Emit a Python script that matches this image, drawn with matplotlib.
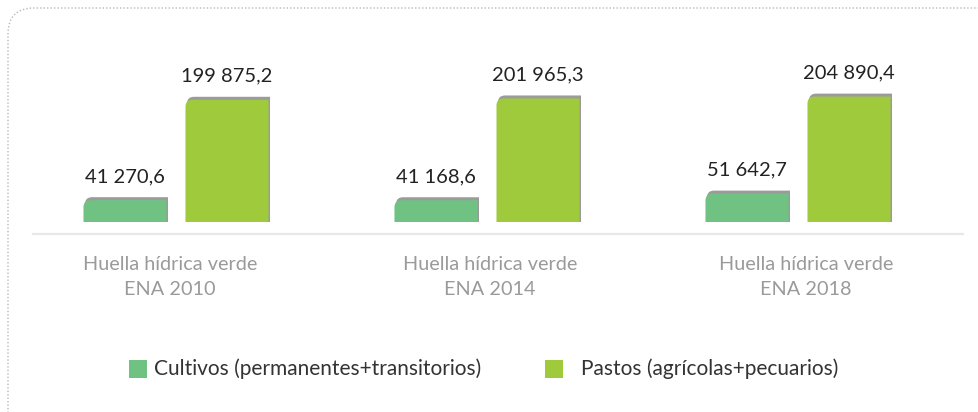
import numpy as np
import matplotlib.pyplot as plt
from matplotlib.path import Path
from matplotlib.patches import PathPatch, FancyBboxPatch, Rectangle
from matplotlib.lines import Line2D

plt.rcParams.update({
    "font.family": ["Lato", "DejaVu Sans"],
})

# huella hídrica verde (millones de m3) por censo
periodos = ["Huella hídrica verde\nENA 2010", "Huella hídrica verde\nENA 2014", "Huella hídrica verde\nENA 2018"]
cultivos = [41270.6, 41168.6, 51642.7]
pastos = [199875.2, 201965.3, 204890.4]
series_names = ["Cultivos (permanentes+transitorios)", "Pastos (agrícolas+pecuarios)"]

color_cultivos = "#70c283"
color_pastos = "#9fca3c"
color_shadow = "#9b9b9b"

W, H, DPI = 979, 412, 100
fig = plt.figure(figsize=(W / DPI, H / DPI), dpi=DPI)

# axes: baseline of the bars at 222 px from the top
ax = fig.add_axes([0, 190 / H, 1, 222 / H])
ax.set_xlim(-176 / 311, (W - 176) / 311)
ax.set_ylim(6800, 6800 + 222 / 0.000633)
ax.axis("off")

x = np.arange(len(periodos))
width = 0.267
offset = 0.164


def fmt(v):
    ent, dec = f"{v:,.1f}".split(".")
    return ent.replace(",", " ") + "," + dec


def rounded_bar(x0, x1, y0, y1, r, color):
    # rectangle with only the top-left corner rounded (pixel coords)
    verts = [(x0, y0), (x1, y0), (x1, y1), (x0 + r, y1),
             (x0, y1), (x0, y1 - r), (x0, y0)]
    codes = [Path.MOVETO, Path.LINETO, Path.LINETO, Path.LINETO,
             Path.CURVE3, Path.CURVE3, Path.CLOSEPOLY]
    return PathPatch(Path(verts, codes), facecolor=color, edgecolor="none",
                     transform=None, zorder=3)


fig.canvas.draw()
for vals, dx, col in [(cultivos, -offset, color_cultivos), (pastos, offset, color_pastos)]:
    bars = ax.bar(x + dx, vals, width, bottom=0, color="none")
    for b, v in zip(bars, vals):
        (px0, py0), (px1, py1) = ax.transData.transform(
            [(b.get_x(), ax.get_ylim()[0]), (b.get_x() + b.get_width(), b.get_height())])
        shadow = rounded_bar(px0 + 1.5, px1 + 1.5, py0, py1 + 3, 7, color_shadow)
        fig.patches.append(shadow)
        fig.patches.append(rounded_bar(px0, px1, py0, py1, 7, col))
        ax.annotate(fmt(v), (b.get_x() + b.get_width() / 2, v), xytext=(0, 11),
                    textcoords="offset points", ha="center", va="bottom",
                    fontsize=14.5, color="#222222")

# baseline
fig.add_artist(Line2D([33 / W, 963 / W], [1 - 234 / H, 1 - 234 / H],
                      color="#e8e8e8", lw=1.6))

# category labels
for cx, lab in zip([170, 490, 806], periodos):
    fig.text(cx / W, 1 - 277 / H, lab, ha="center", va="center",
             fontsize=14.3, color="#9a9a9a", linespacing=1.6)

# legend
for sx, tx, col, name in [(129, 154, color_cultivos, series_names[0]),
                          (545, 581, color_pastos, series_names[1])]:
    fig.patches.append(Rectangle((sx, H - 378), 18, 18, facecolor=col,
                                 edgecolor="none", transform=None))
    fig.text(tx / W, 1 - 369 / H, name, ha="left", va="center",
             fontsize=15, color="#333333")

# dotted rounded frame
fig.patches.append(FancyBboxPatch((8, -40), W + 40, H - 8 + 40,
                                  boxstyle="round,pad=0,rounding_size=26",
                                  facecolor="none", edgecolor="#b8b8b8",
                                  linestyle=(0, (1, 1.5)), lw=1.0,
                                  transform=None, zorder=0))

fig.savefig("out.png", dpi=DPI)
